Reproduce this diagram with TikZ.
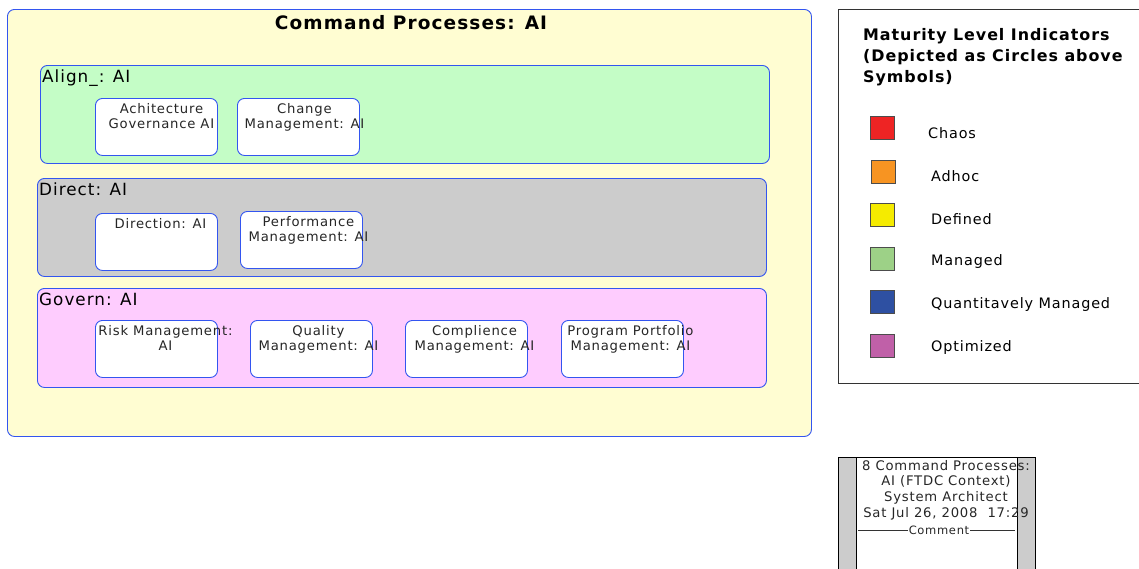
\documentclass[tikz,border=0pt]{standalone}
\usepackage{fontspec}
\setmainfont{DejaVu Sans}[LetterSpace=6]
\begin{document}
\begin{tikzpicture}[x=1pt,y=-1pt,
  bluebd/.style={draw=bordblue, line width=0.9pt, rounded corners=7pt},
  group/.style={bluebd, anchor=north west, minimum width=729pt, minimum height=98pt, inner sep=0pt},
  grplbl/.style={anchor=north west, font=\fontsize{16.8}{16.8}\selectfont, inner sep=1pt},
  proc/.style={bluebd, fill=white, anchor=north west, minimum width=122pt, minimum height=57pt, inner sep=0pt},
  ptxt/.style={anchor=north, align=center, font=\fontsize{13.2}{15}\selectfont, text=black!85, inner sep=0pt},
  sw/.style={draw=black!70, line width=0.6pt, minimum width=24pt, minimum height=23pt, inner sep=0pt},
  legtxt/.style={anchor=west, font=\fontsize{14.4}{14.4}\selectfont, inner sep=0pt}
]
\useasboundingbox (0,0) rectangle (1139,568);
\definecolor{bordblue}{HTML}{3355F0}
\definecolor{outerfill}{HTML}{FFFDD2}
\definecolor{alignfill}{HTML}{C4FDC6}
\definecolor{directfill}{HTML}{CCCCCC}
\definecolor{governfill}{HTML}{FECCFE}
\definecolor{cchaos}{HTML}{EE2424}
\definecolor{cadhoc}{HTML}{F79422}
\definecolor{cdefined}{HTML}{F5EB00}
\definecolor{cmanaged}{HTML}{9DD187}
\definecolor{cquant}{HTML}{2E50A2}
\definecolor{copt}{HTML}{C060A8}

% outer
\node[bluebd, fill=outerfill, anchor=north west, minimum width=804pt, minimum height=427pt, inner sep=0pt] (outer) at (7,9) {};
\node[anchor=center, font=\fontsize{18.5}{18.5}\selectfont\bfseries] (title) at (411,23) {Command Processes: AI};

% groups
\node[group, fill=alignfill] (align) at (40,65) {};
\node[grplbl] (alignl) at (41,69) {Align\_: AI};
\node[group, fill=directfill] (direct) at (37,178) {};
\node[grplbl] (directl) at (38,182) {Direct: AI};
\node[group, fill=governfill, minimum height=99pt] (govern) at (37,288) {};
\node[grplbl] (governl) at (38,292) {Govern: AI};

% processes
\node[proc] (arch) at (95,98) {};
\node[ptxt] at ([xshift=5pt,yshift=-5pt]arch.north) {Achitecture\\Governance AI};
\node[proc] (change) at (237,98) {};
\node[ptxt] at ([xshift=6pt,yshift=-5pt]change.north) {Change\\Management: AI};

\node[proc] (dir) at (95,213) {};
\node[ptxt] at ([xshift=4pt,yshift=-5pt]dir.north) {Direction: AI};
\node[proc] (perf) at (240,211) {};
\node[ptxt] at ([xshift=7pt,yshift=-5pt]perf.north) {Performance\\Management: AI};

\node[proc] (risk) at (95,320) {};
\node[ptxt] at ([xshift=9pt,yshift=-5pt]risk.north) {Risk Management:\\AI};
\node[proc] (qual) at (250,320) {};
\node[ptxt] at ([xshift=7pt,yshift=-5pt]qual.north) {Quality\\Management: AI};
\node[proc] (comp) at (405,320) {};
\node[ptxt] at ([xshift=8pt,yshift=-5pt]comp.north) {Complience\\Management: AI};
\node[proc] (prog) at (561,320) {};
\node[ptxt] at ([xshift=8pt,yshift=-5pt]prog.north) {Program Portfolio\\Management: AI};

% legend
\node[draw=black!80, line width=0.7pt, anchor=north west, minimum width=320pt, minimum height=374pt, inner sep=0pt] (legend) at (838,9) {};
\node[anchor=north west, align=left, font=\fontsize{15.9}{21}\selectfont\bfseries, inner sep=0pt] (legt) at (863,28) {Maturity Level Indicators\\(Depicted as Circles above\\Symbols)};
\node[sw, fill=cchaos] (s1) at (882,128) {};
\node[legtxt] at (928,133) {Chaos};
\node[sw, fill=cadhoc] (s2) at (883,172) {};
\node[legtxt] at (931,176) {Adhoc};
\node[sw, fill=cdefined] (s3) at (882,215) {};
\node[legtxt] at (931,219) {Defined};
\node[sw, fill=cmanaged] (s4) at (882,259) {};
\node[legtxt] at (931,262) {Managed};
\node[sw, fill=cquant] (s5) at (882,302) {};
\node[legtxt] at (931,305) {Quantitavely Managed};
\node[sw, fill=copt] (s6) at (882,346) {};
\node[legtxt] at (931,348) {Optimized};

% title block
\fill[directfill] (838,457) rectangle (856,570);
\fill[directfill] (1017,457) rectangle (1035,570);
\draw[black, line width=0.7pt] (838,570) -- (838,457) -- (1035,457) -- (1035,570);
\draw[black, line width=0.7pt] (856,457) -- (856,570);
\draw[black, line width=0.7pt] (1017,457) -- (1017,570);
\node[anchor=north, align=center, font=\fontsize{13.2}{15.6}\selectfont, text=black!85, inner sep=0pt] (tb) at (946,460) {8 Command Processes:\\AI (FTDC Context)\\System Architect\\Sat Jul 26, 2008\ \ 17:29};
\node[font=\fontsize{11.5}{11.5}\selectfont, text=black!85, inner sep=1pt] (cmt) at (939,530) {Comment};
\coordinate (cl) at (858,530);
\coordinate (cr) at (1015,530);
\draw[black!80, line width=0.6pt] (cl) -- (cmt.west);
\draw[black!80, line width=0.6pt] (cmt.east) -- (cr);
\end{tikzpicture}
\end{document}
